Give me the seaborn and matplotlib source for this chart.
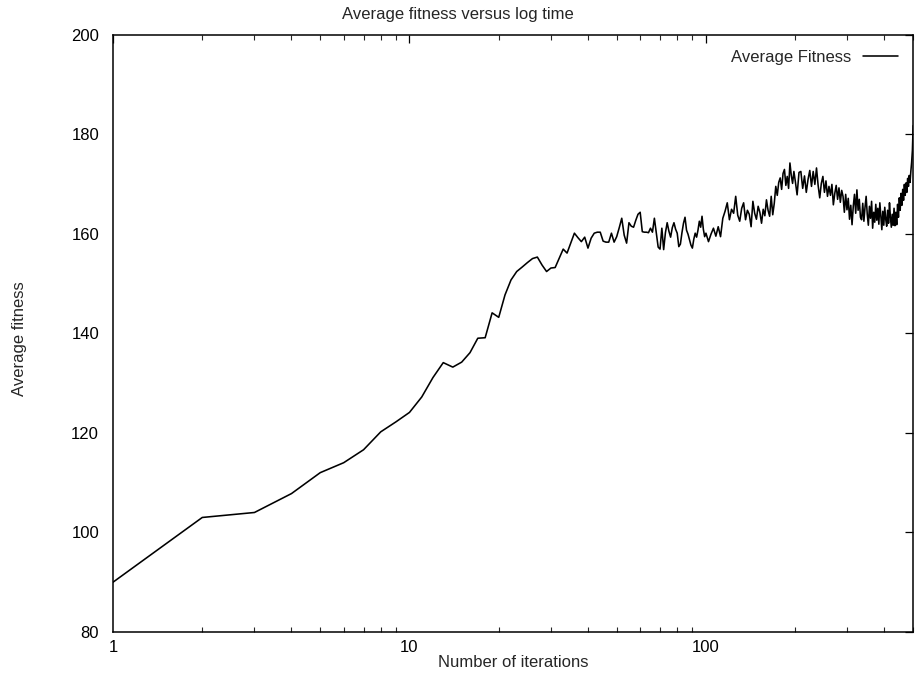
import numpy as np
import pandas as pd
import matplotlib
matplotlib.use("Agg")
import matplotlib.pyplot as plt
from matplotlib.ticker import FixedLocator, FixedFormatter, LogLocator, NullFormatter, NullLocator
import seaborn as sns

# Iteration counts at which the population fitness was recorded
iter_early = list(range(1, 101))
iter_mid = list(range(102, 201, 2))
iter_late = list(range(203, 501, 3))

fitness_early = [
    90.0, 103.0, 104.0, 107.8, 112.0, 114.0, 116.6, 120.2, 122.2, 124.1,
    127.2, 131.1, 134.1, 133.2, 134.2, 136.1, 139.0, 139.1, 144.1, 143.2,
    147.7, 150.7, 152.4, 153.3, 154.2, 155.0, 155.3, 153.7, 152.4, 153.1,
    153.2, 155.1, 156.9, 156.1, 158.1, 160.1, 159.2, 158.4, 159.3, 157.1,
    159.1, 160.1, 160.3, 160.3, 158.5, 158.3, 158.3, 160.1, 158.3, 159.4,
    161.2, 163.1, 159.7, 158.1, 162.2, 161.5, 161.3, 162.7, 163.9, 164.3,
    160.4, 160.3, 160.3, 160.2, 161.1, 160.3, 163.1, 160.2, 157.3, 156.9,
    161.1, 156.8, 160.2, 162.2, 160.5, 159.3, 161.2, 162.2, 160.9, 160.1,
    157.4, 157.9, 160.2, 162.1, 163.3, 160.7, 159.9, 158.8, 157.7, 157.1,
    158.9, 160.1, 159.3, 160.7, 162.5, 161.3, 163.5, 160.9, 159.4, 160.1,
]
fitness_mid = [
    158.4, 159.9, 161.1, 159.5, 161.4, 159.4, 163.1, 164.5, 166.2, 162.8,
    164.9, 164.1, 167.5, 163.7, 162.5, 165.1, 166.2, 162.8, 164.7, 163.9,
    161.4, 166.5, 164.1, 162.9, 165.5, 164.3, 162.1, 164.9, 163.6, 166.8,
    164.7, 163.5, 167.5, 163.8, 166.1, 169.5, 167.7, 170.3, 171.2, 168.9,
    172.1, 172.9, 169.7, 171.5, 169.1, 174.2, 171.7, 170.1, 172.5, 170.7,
]
fitness_late = [
    167.8, 172.3, 172.5, 169.1, 171.6, 168.3, 170.9, 172.7, 169.5, 172.5,
    169.9, 173.2, 169.7, 167.2, 170.1, 171.5, 168.3, 170.6, 167.5, 169.5,
    167.7, 169.9, 165.8, 168.1, 169.7, 166.9, 169.2, 166.3, 168.7, 167.5,
    164.3, 167.9, 164.8, 167.1, 162.9, 165.7, 161.8, 165.5, 167.9, 164.1,
    168.8, 164.7, 166.9, 163.3, 162.8, 166.1, 162.5, 165.3, 167.5, 163.9,
    161.7, 165.5, 163.1, 166.5, 161.1, 164.3, 162.3, 165.9, 162.7, 165.1,
    161.9, 166.2, 163.5, 160.8, 164.5, 161.7, 165.3, 162.9, 161.5, 164.7,
    162.1, 166.2, 163.3, 161.3, 163.9, 161.7, 165.1, 161.6, 164.3, 161.8,
    165.9, 163.3, 167.2, 164.7, 168.1, 165.7, 168.9, 166.7, 169.9, 167.7,
    170.2, 168.3, 171.1, 169.5, 171.7, 170.3, 172.5, 174.3, 176.7, 181.7,
]

x_ticks = [1, 10, 100]
x_tick_labels = ["1", "10", "100"]
y_ticks = [80, 100, 120, 140, 160, 180, 200]

df = pd.DataFrame({
    "iteration": iter_early + iter_mid + iter_late,
    "fitness": fitness_early + fitness_mid + fitness_late,
})

sns.set_style("white")
plt.rcParams["font.family"] = ["Liberation Sans", "DejaVu Sans"]

FS = 12

fig = plt.figure(figsize=(9.15, 6.77), dpi=100)
ax = fig.add_axes([0.1235, 0.0665, 0.8745, 0.8825])

sns.lineplot(data=df, x="iteration", y="fitness", ax=ax, color="black",
             linewidth=1.15, label="Average Fitness", estimator=None)

ax.set_xscale("log")
ax.set_xlim(1, 500)
ax.set_ylim(80, 200)

ax.xaxis.set_major_locator(FixedLocator(x_ticks))
ax.xaxis.set_major_formatter(FixedFormatter(x_tick_labels))
ax.xaxis.set_minor_locator(LogLocator(base=10, subs=np.arange(2, 10)))
ax.xaxis.set_minor_formatter(NullFormatter())
ax.yaxis.set_major_locator(FixedLocator(y_ticks))
ax.yaxis.set_minor_locator(NullLocator())

ax.tick_params(axis="both", which="major", direction="in", length=6, width=0.9,
               top=True, right=True, labelsize=FS, colors="black")
ax.tick_params(axis="x", which="minor", direction="in", length=3.5, width=0.8,
               top=True, bottom=True)
ax.tick_params(axis="y", which="major", pad=10)
ax.tick_params(axis="x", which="major", pad=6)

for side in ["left", "right", "top", "bottom"]:
    ax.spines[side].set_visible(True)
    ax.spines[side].set_color("black")
    ax.spines[side].set_linewidth(1.1)

ax.set_xlabel("Number of iterations", fontsize=FS, labelpad=0)
ax.set_ylabel("")
fig.text(0.021, 0.5, "Average fitness", rotation=90, va="center", ha="center", fontsize=FS)
fig.text(0.5, 0.978, "Average fitness versus log time", ha="center", va="center", fontsize=FS)

leg = ax.legend(loc="upper right", frameon=False, markerfirst=False, fontsize=FS,
                handlelength=2.1, handletextpad=0.7, borderaxespad=0.5)

fig.savefig("out.png", dpi=100)
